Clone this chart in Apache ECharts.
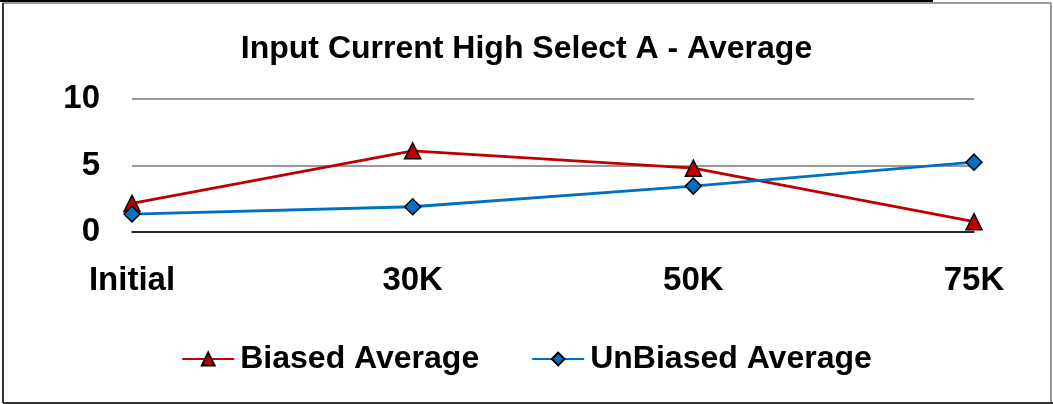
<!DOCTYPE html>
<html><head><meta charset="utf-8">
<script src="https://cdn.jsdelivr.net/npm/echarts@6/dist/echarts.min.js"></script>
<style>html,body{margin:0;padding:0;background:#fff}#c{width:1053px;height:404px}</style>
</head><body><div id="c"></div>
<script>
const categories = ['Initial', '30K', '50K', '75K'];
const biased = [2.15, 6.1, 4.8, 0.78];
const unbiased = [1.35, 1.9, 3.45, 5.25];
const yTicks = [0, 5, 10];

const FONT = '"Liberation Sans Narrow", "Liberation Sans", Arial, sans-serif';
const chart = echarts.init(document.getElementById('c'), null, {renderer: 'canvas'});
chart.setOption({
  animation: false,
  backgroundColor: '#fff',
  title: {
    text: 'Input Current High Select A - Average',
    left: 'center', top: 28,
    textStyle: {fontFamily: FONT, fontWeight: 'bold', fontSize: 32, color: '#000'}
  },
  legend: {
    bottom: 24, left: 'center', itemGap: 52, itemWidth: 52, itemHeight: 16,
    textStyle: {fontFamily: FONT, fontWeight: 'bold', fontSize: 32, color: '#000', padding: [0, 0, 0, 1]},
    data: ['Biased Average', 'UnBiased Average']
  },
  grid: {left: 132, right: 79, top: 99, bottom: 172, containLabel: false},
  xAxis: {
    type: 'category', data: categories, boundaryGap: false,
    axisLine: {lineStyle: {color: '#000', width: 1.5}},
    axisTick: {show: false},
    axisLabel: {fontFamily: FONT, fontWeight: 'bold', fontSize: 33, color: '#000', margin: 32}
  },
  yAxis: {
    type: 'value', min: yTicks[0], max: yTicks[yTicks.length - 1], interval: 5,
    axisLine: {show: false}, axisTick: {show: false},
    splitLine: {lineStyle: {color: '#999', width: 2}},
    axisLabel: {fontFamily: FONT, fontWeight: 'bold', fontSize: 33, color: '#000', margin: 32}
  },
  series: [
    {
      name: 'Biased Average', type: 'line', data: biased,
      symbol: 'triangle', symbolSize: 16,
      lineStyle: {color: '#C00000', width: 2.8},
      itemStyle: {color: '#C00000', borderColor: '#000', borderWidth: 1.5}
    },
    {
      name: 'UnBiased Average', type: 'line', data: unbiased,
      symbol: 'diamond', symbolSize: 16,
      lineStyle: {color: '#0070C0', width: 2.8},
      itemStyle: {color: '#0070C0', borderColor: '#000', borderWidth: 1.5}
    }
  ],
  graphic: [
    {type: 'line', shape: {x1: 0, y1: 1, x2: 933, y2: 1}, style: {stroke: '#000', lineWidth: 2}},
    {type: 'line', shape: {x1: 3, y1: 3, x2: 1051, y2: 3}, style: {stroke: '#999', lineWidth: 2}},
    {type: 'line', shape: {x1: 3, y1: 3, x2: 3, y2: 403}, style: {stroke: '#333', lineWidth: 2}},
    {type: 'line', shape: {x1: 1051, y1: 3, x2: 1051, y2: 403}, style: {stroke: '#999', lineWidth: 2}},
    {type: 'line', shape: {x1: 3, y1: 403, x2: 1053, y2: 403}, style: {stroke: '#333', lineWidth: 2}}
  ]
});
</script></body></html>
